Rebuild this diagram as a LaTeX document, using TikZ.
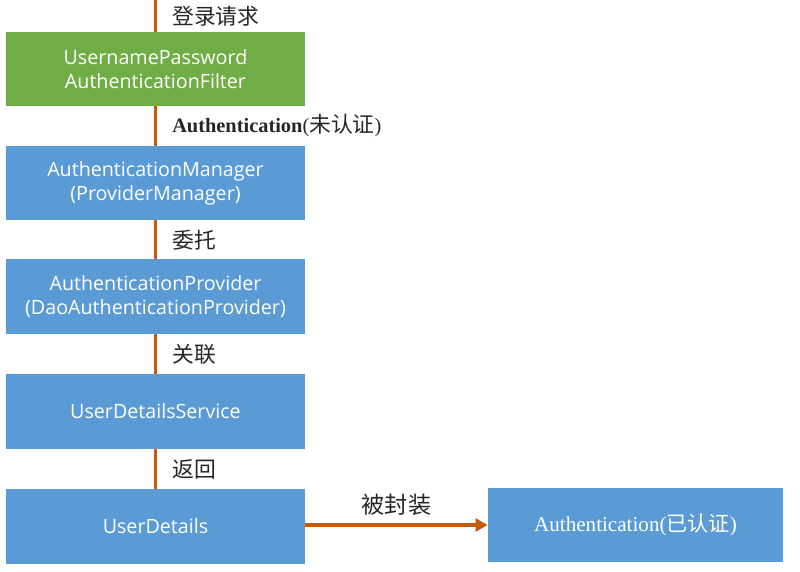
\documentclass[tikz,border=0pt]{standalone}
\usepackage{fontspec}
\setmainfont{Liberation Serif}
\setsansfont{Open Sans}
\newfontfamily\cjk{Noto Sans CJK SC}
\usetikzlibrary{arrows.meta}
\definecolor{filtergreen}{HTML}{70AD47}
\definecolor{stageblue}{HTML}{5B9BD5}
\definecolor{linkorange}{HTML}{C55A11}

\begin{document}
\begin{tikzpicture}[x=0.025cm, y=-0.025cm]
	\useasboundingbox (0,0) rectangle (800,571);
	\tikzset{
		stage/.style={rectangle, fill=stageblue, text=white, minimum width=7.475cm, minimum height=1.85cm, inner sep=0pt, align=center, font=\sffamily\fontsize{14}{17}\selectfont},
		link/.style={linkorange, line width=2.2pt},
		tag/.style={anchor=west, inner sep=0pt, xshift=0.38cm, text=black!85, font=\fontsize{15.5}{17}\selectfont}
	}
	\coordinate (request) at (155.5,0);
	\node[stage, fill=filtergreen] (filter) at (155.5,69) {UsernamePassword\\AuthenticationFilter};
	\node[stage] (manager) at (155.5,183) {AuthenticationManager\\(ProviderManager)};
	\node[stage] (provider) at (155.5,296.5) {AuthenticationProvider\\(DaoAuthenticationProvider)};
	\node[stage] (service) at (155.5,411.5) {UserDetailsService};
	\node[stage] (details) at (155.5,526.5) {UserDetails};
	\node[stage, minimum width=7.375cm, font=\rmfamily\fontsize{15}{17}\selectfont] (done) at (635.5,525) {Authentication({\cjk 已认证})};

	\draw[link] (request) -- (filter) node[midway, tag] {\cjk 登录请求};
	\draw[link] (filter) -- (manager) node[midway, tag] {{\fontsize{14.5}{17}\selectfont\textbf{Authentication}(}{\cjk 未认证}{\fontsize{14.5}{17}\selectfont)}};
	\draw[link] (manager) -- (provider) node[midway, tag] {\cjk 委托};
	\draw[link] (provider) -- (service) node[midway, tag] {\cjk 关联};
	\draw[link] (service) -- (details) node[midway, tag] {\cjk 返回};
	\draw[link, -{Triangle[length=0.3cm, width=0.32cm]}] (details.east |- done) -- (done)
		node[midway, above=0.2cm, inner sep=0pt, text=black!85, font=\fontsize{16.5}{17}\selectfont] {\cjk 被封装};
\end{tikzpicture}
\end{document}
